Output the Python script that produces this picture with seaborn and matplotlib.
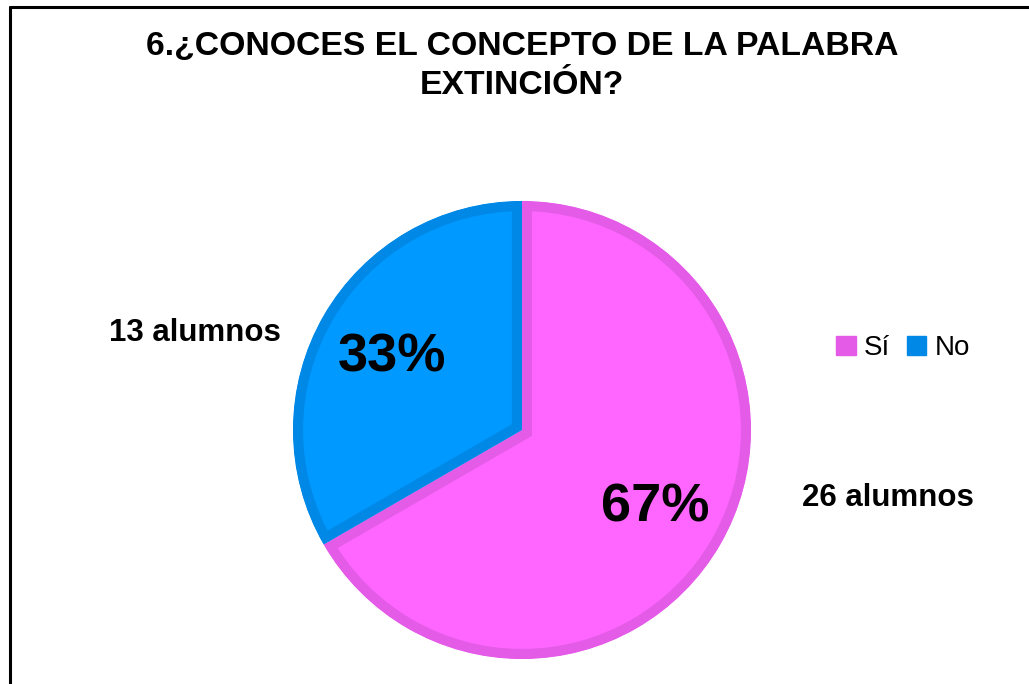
import matplotlib.pyplot as plt
import seaborn as sns
from matplotlib.patches import Patch

sns.set_theme(style="white")
plt.rcParams["font.family"] = ["Liberation Sans", "DejaVu Sans"]
plt.rcParams["text.color"] = "black"

# Data
categories = ["Sí", "No"]
counts = [26, 13]
count_labels = ["26 alumnos", "13 alumnos"]
face_colors = ["#FF66FF", "#0099FF"]
edge_colors = ["#E35BE6", "#0088E6"]

W, H = 1029, 684
fig = plt.figure(figsize=(W / 100, H / 100), dpi=100)
ax = fig.add_axes([0, 0, 1, 1])

cx, cy, r = 522, H - 430, 229
wedges, _ = ax.pie(
    counts,
    colors=face_colors,
    startangle=90,
    counterclock=False,
    center=(cx, cy),
    radius=r,
    wedgeprops=dict(linewidth=14.5),
    frame=True,
)
ax.set_xlim(0, W)
ax.set_ylim(0, H)
ax.set_aspect("equal")
ax.axis("off")
for w, ec in zip(wedges, edge_colors):
    w.set_edgecolor(ec)
    # keep the thick edge inside the wedge
    w.set_clip_on(True)
    w.set_clip_path(w.get_path(), ax.transData)

total = sum(counts)
pcts = [f"{round(c / total * 100)}%" for c in counts]
ax.text(655, H - 508, pcts[0], fontsize=39, fontweight="bold", ha="center", va="center")
ax.text(392, H - 357, pcts[1], fontsize=39, fontweight="bold", ha="center", va="center")
ax.text(888, H - 498, count_labels[0], fontsize=22.5, fontweight="bold", ha="center", va="center")
ax.text(195, H - 333, count_labels[1], fontsize=22.5, fontweight="bold", ha="center", va="center")

ax.text(522, H - 66, "6.¿CONOCES EL CONCEPTO DE LA PALABRA\nEXTINCIÓN?",
        fontsize=24.3, fontweight="bold", ha="center", va="center", linespacing=1.3)

handles = [Patch(facecolor=c, edgecolor=c) for c in edge_colors]
ax.legend(handles, categories, loc="center", bbox_to_anchor=(903 / W, 1 - 348 / H),
          ncol=2, frameon=False, fontsize=20, handlelength=0.7, handleheight=0.7,
          handletextpad=0.3, columnspacing=0.6)

# frame border (left and top)
ax.plot([10, 10], [0, H - 7], color="black", lw=2.2, clip_on=False)
ax.plot([10, W], [H - 7, H - 7], color="black", lw=2.2, clip_on=False)

fig.savefig("out.png", dpi=100)
